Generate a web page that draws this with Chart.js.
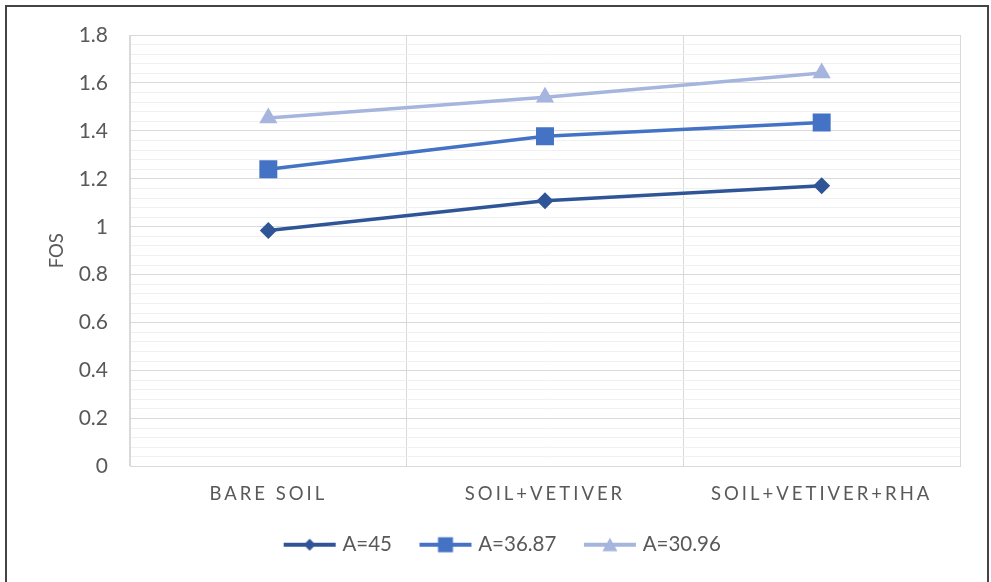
<!DOCTYPE html>
<html>
<head>
<meta charset="utf-8">
<script src="https://cdn.jsdelivr.net/npm/chart.js@4/dist/chart.umd.min.js"></script>
<style>
  html, body { margin: 0; padding: 0; background: #fff; }
  #wrap { position: relative; width: 991px; height: 582px; }
  #frame {
    position: absolute; left: 5px; top: 5px; width: 980px; height: 575px;
    border: 2px solid #444; border-bottom: 1px solid #bbb; pointer-events: none;
  }
  canvas { position: absolute; left: 0; top: 0; }
</style>
</head>
<body>
<div id="wrap">
  <canvas id="fosChart" width="991" height="582"></canvas>
  <div id="frame"></div>
</div>
<script>
// chart data
const categories = ["BARE SOIL", "SOIL+VETIVER", "SOIL+VETIVER+RHA"];
const seriesNames = ["A=45", "A=36.87", "A=30.96"];
const fosA45 = [0.984, 1.109, 1.171];
const fosA3687 = [1.240, 1.378, 1.435];
const fosA3096 = [1.454, 1.540, 1.641];
const yMin = 0, yMax = 1.8, yMajor = 0.2, yMinor = 0.04;

const textColor = "#595959";
const fontFamily = "Lato, 'Open Sans', sans-serif";
const colors = ["#2F5597", "#4472C4", "#A5B5DD"];
const markers = ["rectRot", "rect", "triangle"];
const markerSizes = [8.5, 12.7, 10.5];

const isMajor = (v) => Math.round(v * 100) % Math.round(yMajor * 100) === 0;

// little line+marker pictures for the legend
function legendIcon(color, style) {
    const c = document.createElement("canvas");
    c.width = 56; c.height = 22;
    const g = c.getContext("2d");
    g.strokeStyle = color;
    g.fillStyle = color;
    g.lineWidth = 4;
    g.beginPath();
    g.moveTo(2, 11); g.lineTo(54, 11);
    g.stroke();
    g.beginPath();
    if (style === "rectRot") {
        g.moveTo(28, 5); g.lineTo(34, 11); g.lineTo(28, 17); g.lineTo(22, 11);
    } else if (style === "rect") {
        g.rect(20.5, 3.5, 15, 15);
    } else {
        g.moveTo(28, 4); g.lineTo(35.5, 17.5); g.lineTo(20.5, 17.5);
    }
    g.closePath();
    g.fill();
    return c;
}
const legendIcons = colors.map((c, i) => legendIcon(c, markers[i]));

// excel style letter spaced category labels
const spacedLabels = {
    id: "spacedLabels",
    beforeDraw(chart) {
        const s = chart.scales.x;
        if (s._spaced) return;
        const orig = s.drawLabels.bind(s);
        s.drawLabels = function (area) {
            const ctx = this.ctx;
            ctx.save();
            ctx.letterSpacing = "3px";
            orig(area);
            ctx.restore();
        };
        s._spaced = true;
    }
};

const allSeries = [fosA45, fosA3687, fosA3096];

const ctx = document.getElementById("fosChart").getContext("2d");
new Chart(ctx, {
    type: "line",
    data: {
        labels: categories,
        datasets: allSeries.map((data, i) => ({
            label: seriesNames[i],
            data: data,
            borderColor: colors[i],
            backgroundColor: colors[i],
            borderWidth: 3.5,
            borderJoinStyle: "round",
            pointStyle: markers[i],
            pointRadius: markerSizes[i],
            pointHoverRadius: markerSizes[i],
            pointBackgroundColor: colors[i],
            pointBorderWidth: 0,
            tension: 0,
            fill: false
        }))
    },
    options: {
        responsive: false,
        animation: false,
        events: [],
        layout: { padding: { left: 48, right: 31, top: 35, bottom: 17 } },
        plugins: {
            tooltip: { enabled: false },
            legend: {
                position: "bottom",
                labels: {
                    usePointStyle: true,
                    pointStyleWidth: 45,
                    padding: 31,
                    color: textColor,
                    font: { family: fontFamily, size: 20.5 },
                    generateLabels: (chart) => chart.data.datasets.map((ds, i) => ({
                        text: ds.label,
                        pointStyle: legendIcons[i],
                        fillStyle: colors[i],
                        strokeStyle: colors[i],
                        lineWidth: 0,
                        fontColor: textColor,
                        hidden: false,
                        datasetIndex: i
                    }))
                }
            }
        },
        scales: {
            x: {
                offset: true,
                afterFit: (scale) => { scale.height = 37; },
                grid: { offset: true, color: "#d9d9d9", drawTicks: false },
                border: { color: "#d9d9d9" },
                ticks: {
                    color: textColor,
                    padding: 16,
                    maxRotation: 0,
                    autoSkip: false,
                    font: { family: fontFamily, size: 18.5 }
                }
            },
            y: {
                min: yMin,
                max: yMax,
                afterFit: (scale) => { scale.width = 82; },
                title: {
                    display: true,
                    text: "FOS",
                    color: textColor,
                    padding: { top: -2, bottom: 0 },
                    font: { family: fontFamily, size: 18.5, weight: "normal" }
                },
                grid: {
                    drawTicks: false,
                    color: (c) => (c.tick && isMajor(c.tick.value) ? "#d9d9d9" : "#f0f0f0")
                },
                border: { color: "#d9d9d9" },
                ticks: {
                    stepSize: yMinor,
                    maxTicksLimit: 100,
                    autoSkip: false,
                    padding: 22,
                    color: textColor,
                    font: { family: fontFamily, size: 21 },
                    callback: (v) => (isMajor(v) ? String(Math.round(v * 10) / 10) : "")
                }
            }
        }
    },
    plugins: [spacedLabels]
});
</script>
</body>
</html>
